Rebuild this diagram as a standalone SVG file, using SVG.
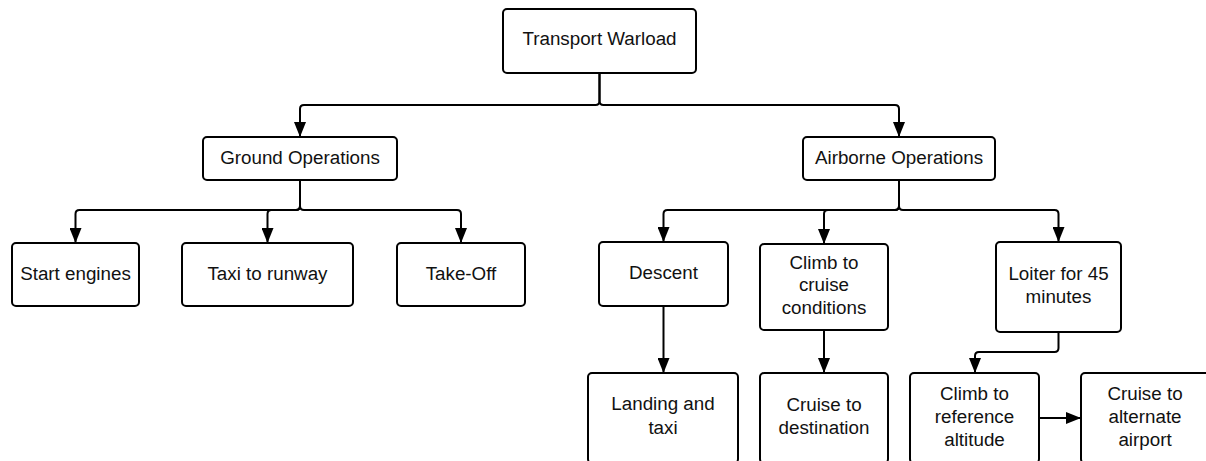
<svg xmlns="http://www.w3.org/2000/svg" width="1206" height="461" viewBox="0 0 1206 461">
<style>
.box{fill:#fff;stroke:#000;stroke-width:2}
.lbl{font-family:"Liberation Sans",Arial,sans-serif;font-size:18.8px;fill:#111;text-anchor:middle}
.edge{fill:none;stroke:#000;stroke-width:2}
</style>
<defs>
<marker id="arr" viewBox="0 0 15 12" refX="15" refY="6" markerWidth="15" markerHeight="12" markerUnits="userSpaceOnUse" orient="auto">
<path d="M0,0 L15,6 L0,12 z" fill="#000"/>
</marker>
</defs>
<rect width="1206" height="461" fill="#fff"/>
<g id="connectors">
<path class="edge" marker-end="url(#arr)" d="M599.5,73 V101 Q599.5,105 595.5,105 H304 Q300,105 300,109 V137"/>
<path class="edge" marker-end="url(#arr)" d="M599.5,73 V101 Q599.5,105 603.5,105 H895 Q899,105 899,109 V137"/>
<path class="edge" marker-end="url(#arr)" d="M300,180 V206 Q300,210 296,210 H79.5 Q75.5,210 75.5,214 V243"/>
<path class="edge" marker-end="url(#arr)" d="M300,180 V206 Q300,210 296,210 H271.5 Q267.5,210 267.5,214 V243"/>
<path class="edge" marker-end="url(#arr)" d="M300,180 V206 Q300,210 304,210 H457 Q461,210 461,214 V243"/>
<path class="edge" marker-end="url(#arr)" d="M899,180 V206 Q899,210 895,210 H667.5 Q663.5,210 663.5,214 V242"/>
<path class="edge" marker-end="url(#arr)" d="M899,180 V206 Q899,210 895,210 H828 Q824,210 824,214 V244"/>
<path class="edge" marker-end="url(#arr)" d="M899,180 V206 Q899,210 903,210 H1054.5 Q1058.5,210 1058.5,214 V242"/>
<path class="edge" marker-end="url(#arr)" d="M663.5,306 V373"/>
<path class="edge" marker-end="url(#arr)" d="M824,330 V373"/>
<path class="edge" marker-end="url(#arr)" d="M1058.5,332 V348 Q1058.5,352 1054.5,352 H979 Q975,352 975,356 V373"/>
<path class="edge" marker-end="url(#arr)" d="M1039,418 H1081"/>
</g>
<g id="n-transport"><rect class="box" x="503" y="9" width="193" height="64" rx="4"/><text class="lbl" x="599.5" y="45">Transport Warload</text></g>
<g id="n-ground"><rect class="box" x="203" y="137" width="194" height="43" rx="4"/><text class="lbl" x="300" y="164">Ground Operations</text></g>
<g id="n-airborne"><rect class="box" x="803" y="137" width="192" height="43" rx="4"/><text class="lbl" x="899" y="164">Airborne Operations</text></g>
<g id="n-start"><rect class="box" x="12" y="243" width="127" height="63" rx="4"/><text class="lbl" x="75.5" y="280">Start engines</text></g>
<g id="n-taxi"><rect class="box" x="182" y="243" width="171" height="63" rx="4"/><text class="lbl" x="267.5" y="280">Taxi to runway</text></g>
<g id="n-takeoff"><rect class="box" x="397" y="243" width="128" height="63" rx="4"/><text class="lbl" x="461" y="280">Take-Off</text></g>
<g id="n-descent"><rect class="box" x="599" y="242" width="129" height="64" rx="4"/><text class="lbl" x="663.5" y="279">Descent</text></g>
<g id="n-climbcruise"><rect class="box" x="760" y="244" width="128" height="86" rx="4"/><text class="lbl" x="824" y="268.5">Climb to</text><text class="lbl" x="824" y="291">cruise</text><text class="lbl" x="824" y="313.5">conditions</text></g>
<g id="n-loiter"><rect class="box" x="996" y="242" width="125" height="90" rx="4"/><text class="lbl" x="1058.5" y="280">Loiter for 45</text><text class="lbl" x="1058.5" y="303">minutes</text></g>
<g id="n-landing"><rect class="box" x="588" y="373" width="150" height="90" rx="4"/><text class="lbl" x="663" y="410">Landing and</text><text class="lbl" x="663" y="434">taxi</text></g>
<g id="n-cruisedest"><rect class="box" x="760" y="373" width="128" height="90" rx="4"/><text class="lbl" x="824" y="411">Cruise to</text><text class="lbl" x="824" y="434">destination</text></g>
<g id="n-climbref"><rect class="box" x="910" y="373" width="129" height="90" rx="4"/><text class="lbl" x="974.5" y="399.5">Climb to</text><text class="lbl" x="974.5" y="422.5">reference</text><text class="lbl" x="974.5" y="445.5">altitude</text></g>
<g id="n-cruisealt"><rect class="box" x="1081" y="373" width="128" height="90" rx="4"/><text class="lbl" x="1145" y="399.5">Cruise to</text><text class="lbl" x="1145" y="422.5">alternate</text><text class="lbl" x="1145" y="445.5">airport</text></g>
</svg>
